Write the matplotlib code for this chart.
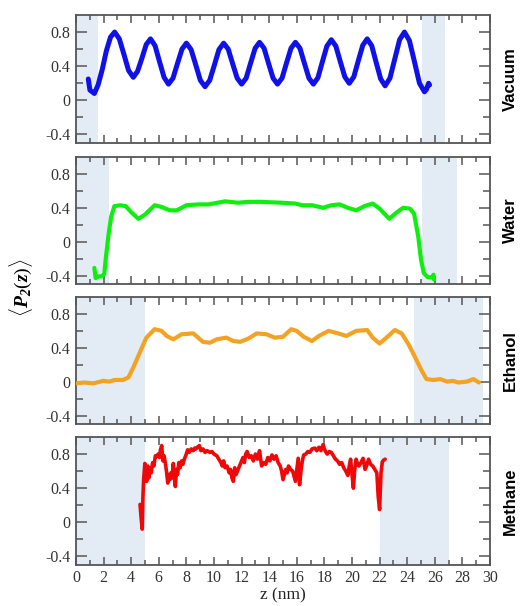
import numpy as np
import matplotlib
matplotlib.use('Agg')
import matplotlib.pyplot as plt
from matplotlib.ticker import MultipleLocator, FixedLocator

plt.rcParams['mathtext.fontset'] = 'custom'
plt.rcParams['mathtext.bf'] = 'Liberation Serif:bold:italic'
plt.rcParams['mathtext.rm'] = 'Liberation Serif'

# ---- data ----
names = ['Vacuum', 'Water', 'Ethanol', 'Methane']
colors = ['#1010e8', '#10ee10', '#f2a324', '#f00808']

# shaded (interface) regions, nm
shade_left = [(0.0, 1.6), (0.0, 2.4), (0.0, 5.0), (0.0, 5.0)]
shade_right = [(25.1, 26.75), (25.1, 27.6), (24.5, 29.5), (22.0, 27.0)]

vac_z = [0.89, 1.01, 1.33, 1.6, 1.9, 2.2, 2.5, 2.8, 3.14, 3.48, 3.81, 4.15, 4.46, 4.78, 5.09, 5.4,
         5.73, 6.05, 6.38, 6.7, 7.03, 7.35, 7.68, 8.0, 8.34, 8.68, 9.01, 9.35, 9.69, 10.03, 10.36,
         10.7, 11.03, 11.35, 11.68, 12.0, 12.33, 12.65, 12.98, 13.3, 13.63, 13.95, 14.28, 14.6,
         14.93, 15.25, 15.58, 15.9, 16.23, 16.55, 16.88, 17.2, 17.53, 17.85, 18.18, 18.5, 18.83,
         19.15, 19.48, 19.8, 20.13, 20.45, 20.78, 21.1, 21.43, 21.75, 22.08, 22.4, 22.75, 23.1,
         23.45, 23.8, 24.16, 24.53, 24.89, 25.25, 25.4, 25.55, 25.62]
vac_p = [0.25, 0.12, 0.08, 0.18, 0.36, 0.58, 0.74, 0.80, 0.72, 0.535, 0.35, 0.27, 0.34, 0.495, 0.655, 0.72,
         0.64, 0.455, 0.27, 0.19, 0.26, 0.43, 0.60, 0.67, 0.595, 0.415, 0.235, 0.16, 0.235, 0.415, 0.595,
         0.67, 0.60, 0.43, 0.26, 0.19, 0.26, 0.435, 0.61, 0.68, 0.61, 0.435, 0.26, 0.19,
         0.26, 0.435, 0.61, 0.68, 0.61, 0.435, 0.26, 0.19, 0.265, 0.45, 0.635, 0.71, 0.635,
         0.455, 0.275, 0.20, 0.275, 0.46, 0.645, 0.72, 0.64, 0.445, 0.25, 0.17, 0.26, 0.485,
         0.71, 0.80, 0.70, 0.45, 0.20, 0.10, 0.13, 0.20, 0.18]

wat_z = [1.33, 1.42, 1.62, 1.86, 2.05, 2.15, 2.34, 2.54, 2.78, 3.19, 3.6, 3.99, 4.52, 5.0, 5.7, 6.2,
         6.8, 7.3, 8.0, 8.86, 9.58, 10.8, 11.75, 12.5, 13.4, 14.9, 15.9, 16.4, 17.1, 17.9, 18.5,
         19.1, 19.7, 20.3, 20.9, 21.5, 22.0, 22.7, 23.2, 23.7, 24.2, 24.5, 24.8, 25.0, 25.2, 25.5,
         25.8, 25.9, 25.95]
wat_p = [-0.31, -0.43, -0.41, -0.41, -0.38, -0.21, 0.06, 0.29, 0.42, 0.43, 0.42, 0.35, 0.27, 0.32, 0.43, 0.41,
         0.37, 0.37, 0.43, 0.44, 0.44, 0.476, 0.46, 0.47, 0.47, 0.46, 0.45, 0.43, 0.43, 0.40, 0.43,
         0.44, 0.40, 0.37, 0.42, 0.45, 0.39, 0.27, 0.34, 0.40, 0.39, 0.33, 0.06, -0.21, -0.37, -0.42,
         -0.42, -0.39, -0.45]

eth_z = [0.0, 0.6, 1.25, 1.99, 2.4, 2.8, 3.4, 3.8, 4.16, 4.64, 5.1, 5.7, 6.2, 6.57, 7.05, 7.66, 8.5,
         9.2, 9.7, 10.2, 10.9, 11.4, 11.9, 12.5, 13.1, 13.8, 14.4, 15.0, 15.6, 15.99, 16.5, 17.1,
         17.6, 18.3, 19.0, 19.6, 20.3, 21.1, 21.5, 22.0, 22.5, 23.1, 23.6, 24.1, 24.6, 25.05, 25.4,
         25.9, 26.4, 26.9, 27.3, 27.7, 28.3, 28.8, 29.2]
eth_p = [-0.02, -0.01, -0.02, 0.01, 0.0, 0.02, 0.02, 0.05, 0.17, 0.35, 0.52, 0.62, 0.60, 0.54, 0.50, 0.56, 0.57,
         0.47, 0.46, 0.50, 0.52, 0.48, 0.47, 0.51, 0.57, 0.56, 0.52, 0.53, 0.62, 0.60, 0.53, 0.48,
         0.54, 0.60, 0.57, 0.54, 0.60, 0.61, 0.52, 0.45, 0.52, 0.61, 0.57, 0.44, 0.28, 0.13, 0.03,
         0.02, 0.03, 0.0, 0.01, -0.01, 0.0, 0.03, -0.01]

met_z = [4.64, 4.72, 4.80, 4.85, 4.90, 4.99, 5.05, 5.12, 5.20, 5.28, 5.35, 5.45, 5.55, 5.65, 5.75, 5.85,
         5.95, 6.05, 6.12, 6.21, 6.30, 6.38, 6.47, 6.57, 6.65, 6.72, 6.80, 6.88, 6.97, 7.05, 7.12,
         7.20, 7.28, 7.36, 7.45, 7.55, 7.65, 7.75, 7.85, 7.97, 8.09, 8.20, 8.35, 8.50, 8.60, 8.69,
         8.80, 8.94, 9.05, 9.20, 9.35, 9.50, 9.70, 9.85, 10.0, 10.2, 10.35, 10.5, 10.6, 10.7, 10.8,
         10.95, 11.1, 11.2, 11.3, 11.4, 11.5, 11.6, 11.7, 11.85, 12.0, 12.1, 12.2, 12.3, 12.4, 12.55,
         12.7, 12.85, 13.0, 13.15, 13.3, 13.45, 13.6, 13.75, 13.9, 14.05, 14.2, 14.35, 14.5, 14.65,
         14.8, 14.9, 15.0, 15.1, 15.2, 15.3, 15.4, 15.55, 15.7, 15.8, 15.9, 16.0, 16.1, 16.2, 16.3,
         16.4, 16.5, 16.65, 16.8, 16.95, 17.1, 17.3, 17.45, 17.6, 17.75, 17.9, 18.05, 18.2, 18.35,
         18.5, 18.65, 18.8, 18.95, 19.1, 19.25, 19.4, 19.55, 19.7, 19.8, 19.9, 20.0, 20.1, 20.2,
         20.3, 20.4, 20.5, 20.65, 20.8, 20.95, 21.05, 21.2, 21.35, 21.5, 21.65, 21.8, 21.9, 21.95,
         22.0, 22.05, 22.1, 22.2, 22.3, 22.4]
met_p = [0.21, 0.05, -0.08, 0.30, 0.50, 0.69, 0.55, 0.48, 0.66, 0.52, 0.64, 0.58, 0.70, 0.66, 0.78, 0.77,
         0.80, 0.76, 0.85, 0.90, 0.72, 0.78, 0.70, 0.58, 0.46, 0.56, 0.50, 0.58, 0.52, 0.69, 0.55,
         0.42, 0.62, 0.56, 0.70, 0.64, 0.72, 0.68, 0.74, 0.79, 0.85, 0.82, 0.86, 0.84, 0.87, 0.86,
         0.88, 0.90, 0.84, 0.86, 0.82, 0.84, 0.82, 0.83, 0.80, 0.78, 0.74, 0.70, 0.66, 0.72, 0.64,
         0.66, 0.58, 0.62, 0.52, 0.48, 0.64, 0.56, 0.60, 0.66, 0.72, 0.76, 0.70, 0.80, 0.83, 0.76,
         0.78, 0.72, 0.80, 0.74, 0.84, 0.66, 0.70, 0.68, 0.76, 0.72, 0.79, 0.74, 0.78, 0.70,
         0.66, 0.60, 0.50, 0.56, 0.62, 0.58, 0.66, 0.62, 0.60, 0.54, 0.48, 0.62, 0.75, 0.44, 0.60,
         0.72, 0.79, 0.80, 0.83, 0.82, 0.86, 0.87, 0.84, 0.88, 0.84, 0.91, 0.84, 0.80, 0.83,
         0.82, 0.78, 0.74, 0.72, 0.68, 0.70, 0.64, 0.60, 0.55, 0.66, 0.74, 0.56, 0.40, 0.62,
         0.74, 0.68, 0.66, 0.70, 0.75, 0.62, 0.66, 0.74, 0.68, 0.66, 0.62, 0.58, 0.30, 0.22,
         0.15, 0.36, 0.58, 0.71, 0.73, 0.74]

series = [(vac_z, vac_p), (wat_z, wat_p), (eth_z, eth_p), (met_z, met_p)]
widths = [3.6, 3.0, 3.0, 2.6]

yticks = [-0.4, 0, 0.4, 0.8]
ytick_labels = ['-0.4', '0', '0.4', '0.8']

W, H = 523, 606
fig = plt.figure(figsize=(W / 100, H / 100), dpi=100)
left, right = 76 / W, 490 / W
panels = [(15, 143), (157, 284), (297, 424), (437, 565)]  # top/bottom px
frame_col = '#555555'
serif = 'Liberation Serif'

axes = []
for i, (top, bot) in enumerate(panels):
    ax = fig.add_axes([left, 1 - bot / H, right - left, (bot - top) / H])
    axes.append(ax)
    ax.set_xlim(0, 30)
    ax.set_ylim(-0.5, 1.0)
    ax.axvspan(*shade_left[i], color='#e3ecf5', lw=0, zorder=0)
    ax.axvspan(*shade_right[i], color='#e3ecf5', lw=0, zorder=0)
    z, p = series[i]
    ax.plot(z, p, color=colors[i], lw=widths[i], solid_capstyle='round',
            solid_joinstyle='round', zorder=3)

    ax.xaxis.set_major_locator(MultipleLocator(2))
    ax.xaxis.set_minor_locator(MultipleLocator(1))
    ax.yaxis.set_major_locator(FixedLocator(yticks))
    ax.yaxis.set_minor_locator(FixedLocator([-0.2, 0.2, 0.6]))
    ax.set_yticklabels(ytick_labels, fontfamily=serif, fontsize=11.5, color='#333333')
    ax.tick_params(axis='both', which='both', direction='in', top=True, right=True,
                   color=frame_col, width=1.1)
    ax.tick_params(axis='x', which='major', length=6)
    ax.tick_params(axis='x', which='minor', length=3.5)
    ax.tick_params(axis='y', which='major', length=8, pad=4)
    ax.tick_params(axis='y', which='minor', length=5)
    for s in ax.spines.values():
        s.set_color(frame_col)
        s.set_linewidth(1.3)

    ax.text(1.05, 0.5, names[i], transform=ax.transAxes, rotation=90,
            ha='center', va='center', fontsize=12, fontweight='bold',
            fontfamily='Liberation Sans')

    if i < 3:
        ax.tick_params(axis='x', labelbottom=False)
    else:
        ax.set_xticks(np.arange(0, 31, 2))
        ax.set_xticklabels([str(v) for v in range(0, 31, 2)], fontfamily=serif,
                           fontsize=11.5, color='#333333')
        ax.set_xlabel('z (nm)', fontfamily=serif, fontsize=12.5, labelpad=1, color='#222222')

fig.text(21 / W, 1 - 288 / H, r'$\langle\mathbf{P}_\mathbf{2}(\mathbf{z})\rangle$',
         rotation=90, ha='center', va='center', fontsize=14)

fig.savefig('out.png', dpi=100)
